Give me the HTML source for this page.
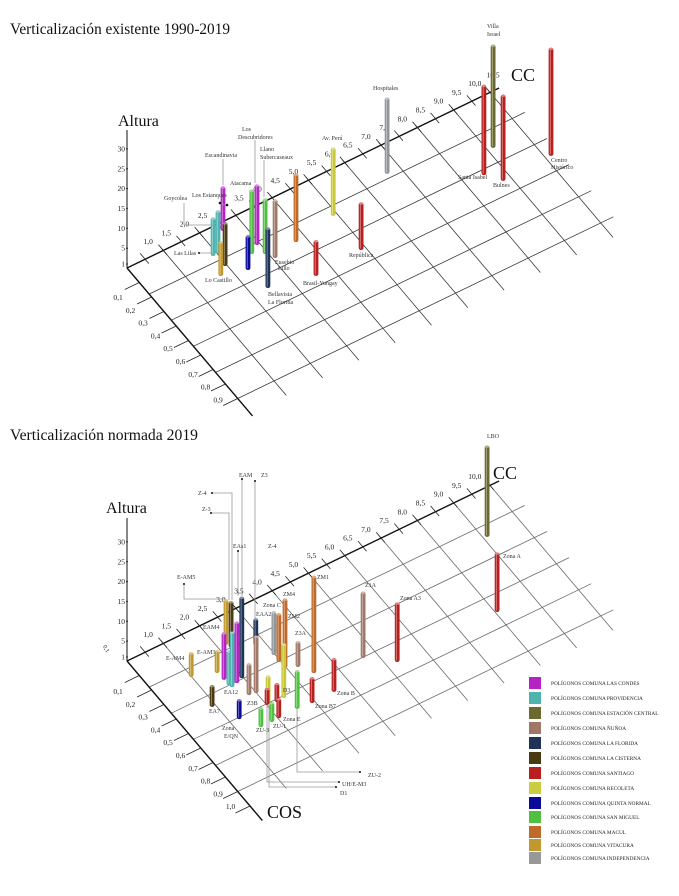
<!DOCTYPE html>
<html><head><meta charset="utf-8"><title>Verticalización</title>
<style>
html,body{margin:0;padding:0;background:#fff;}
svg{display:block;font-family:"Liberation Serif",serif;}
.lbl{font-size:6px;fill:#333;}
.tk{font-size:7.5px;fill:#222;}
.ld{stroke:#999;stroke-width:0.8;fill:none;}
</style></head>
<body>
<svg id="chart" width="679" height="896" viewBox="0 0 679 896" xmlns="http://www.w3.org/2000/svg">
<rect x="0" y="0" width="679" height="896" fill="#fff"/>
<defs><clipPath id="clipR"><rect x="0" y="0" width="614" height="896"/></clipPath></defs>

<text x="10" y="34" font-size="15.5" textLength="220" lengthAdjust="spacingAndGlyphs" fill="#111">Verticalización existente 1990-2019</text>
<text x="10" y="440" font-size="15.5" textLength="188" lengthAdjust="spacingAndGlyphs" fill="#111">Verticalización normada 2019</text>

<g id="top"></g>
<g id="bot"></g>

<!-- top chart annotations -->
<g>
<text x="118" y="126" font-size="16" fill="#111">Altura</text>
<text x="511" y="81" font-size="18" fill="#111">CC</text>
<path class="ld" d="M184 203 V225 H213 M199 253 H213 M223 159 V185 M255 140 V183 M264 160 V197 M220 203 L227 206"/>
<circle cx="199" cy="253" r="1" fill="#111"/><circle cx="220" cy="203" r="1.3" fill="#111"/><circle cx="227" cy="205" r="1.3" fill="#111"/>
<text class="lbl" x="164" y="200">Goycolea</text>
<text class="lbl" x="192" y="197">Los Estanques</text>
<text class="lbl" x="205" y="157">Escandinavia</text>
<text class="lbl" x="242" y="131">Los</text>
<text class="lbl" x="238" y="139">Descubridores</text>
<text class="lbl" x="260" y="151">Llano</text>
<text class="lbl" x="260" y="159">Subercaseaux</text>
<text class="lbl" x="230" y="185">Atacama</text>
<text class="lbl" x="174" y="255">Las Lilas</text>
<text class="lbl" x="205" y="282">Lo Castillo</text>
<text class="lbl" x="275" y="264">Eusebio</text>
<text class="lbl" x="278" y="270">Lillo</text>
<text class="lbl" x="268" y="296">Bellavista</text>
<text class="lbl" x="268" y="304">La Florida</text>
<text class="lbl" x="303" y="285">Brasil-Yungay</text>
<text class="lbl" x="349" y="257">República</text>
<text class="lbl" x="322" y="140">Av. Perú</text>
<text class="lbl" x="373" y="90">Hospitales</text>
<text class="lbl" x="487" y="28">Villa</text>
<text class="lbl" x="487" y="36">Israel</text>
<text class="lbl" x="458" y="179">Santa Isabel</text>
<text class="lbl" x="493" y="187">Bulnes</text>
<text class="lbl" x="551" y="162">Centro</text>
<text class="lbl" x="551" y="169">Histórico</text>
</g>

<!-- bottom chart annotations -->
<g>
<text x="106" y="513" font-size="16" fill="#111">Altura</text>
<text x="493" y="479" font-size="18" fill="#111">CC</text>
<text x="267" y="818" font-size="18" fill="#111">COS</text>
<text x="103" y="650" font-size="6" fill="#111" transform="rotate(60 106 648)">0,1</text>
<path class="ld" d="M184 584 V599 H226 M212 493 H232 V600 M211 513 H229 V600 M242 479 V596 M255 481 V618 M238 551 V596 M297 709 V772 H360 M267 705 V782 H339 M269 705 V787 H336"/>
<circle cx="184" cy="584" r="1" fill="#111"/><circle cx="212" cy="493" r="1" fill="#111"/><circle cx="211" cy="513" r="1" fill="#111"/><circle cx="242" cy="479" r="1" fill="#111"/><circle cx="255" cy="481" r="1" fill="#111"/><circle cx="238" cy="551" r="1" fill="#111"/><circle cx="360" cy="772" r="1" fill="#111"/><circle cx="339" cy="782" r="1" fill="#111"/><circle cx="336" cy="787" r="1" fill="#111"/>
<text class="lbl" x="487" y="438">LBO</text>
<text class="lbl" x="503" y="558">Zona A</text>
<text class="lbl" x="317" y="579">ZM1</text>
<text class="lbl" x="365" y="587">Z1A</text>
<text class="lbl" x="400" y="600">Zona A3</text>
<text class="lbl" x="283" y="596">ZM4</text>
<text class="lbl" x="263" y="607">Zona C</text>
<text class="lbl" x="256" y="616">EAA2</text>
<text class="lbl" x="288" y="618">ZM2</text>
<text class="lbl" x="295" y="635">Z3A</text>
<text class="lbl" x="203" y="629">EAM4</text>
<text class="lbl" x="197" y="654">E-AM3</text>
<text class="lbl" x="166" y="660">E-AM4</text>
<text class="lbl" x="177" y="579">E-AM5</text>
<text class="lbl" x="198" y="495">Z-4</text>
<text class="lbl" x="202" y="511">Z-3</text>
<text class="lbl" x="239" y="477">EAM</text>
<text class="lbl" x="261" y="477">Z3</text>
<text class="lbl" x="233" y="548">EAs1</text>
<text class="lbl" x="268" y="548">Z-4</text>
<text class="lbl" x="224" y="694">EA12</text>
<text class="lbl" x="209" y="713">EA7</text>
<text class="lbl" x="222" y="730">Zona</text>
<text class="lbl" x="224" y="738">E/QN</text>
<text class="lbl" x="247" y="705">Z3B</text>
<text class="lbl" x="283" y="692">D3</text>
<text class="lbl" x="256" y="732">ZU-3</text>
<text class="lbl" x="273" y="728">ZU-1</text>
<text class="lbl" x="283" y="721">Zona E</text>
<text class="lbl" x="337" y="695">Zona B</text>
<text class="lbl" x="315" y="708">Zona B7</text>
<text class="lbl" x="368" y="777">ZU-2</text>
<text class="lbl" x="342" y="786">UH/E-M3</text>
<text class="lbl" x="340" y="795">D1</text>
</g>

<!-- legend -->
<g font-size="5.3" fill="#222">
<g><rect x="529" y="677" width="12" height="12" fill="#b424c4"/><text x="551" y="685">POLÍGONOS COMUNA  LAS CONDES</text></g>
<g><rect x="529" y="692" width="12" height="12" fill="#4fb3ae"/><text x="551" y="700">POLÍGONOS COMUNA  PROVIDENCIA</text></g>
<g><rect x="529" y="707" width="12" height="12" fill="#6b6a2e"/><text x="551" y="715">POLÍGONOS COMUNA ESTACIÓN CENTRAL</text></g>
<g><rect x="529" y="722" width="12" height="12" fill="#a07868"/><text x="551" y="730">POLÍGONOS  COMUNA  ÑUÑOA</text></g>
<g><rect x="529" y="737" width="12" height="12" fill="#1e3358"/><text x="551" y="745">POLÍGONOS COMUNA  LA FLORIDA</text></g>
<g><rect x="529" y="752" width="12" height="12" fill="#4a3a12"/><text x="551" y="760">POLÍGONOS COMUNA  LA CISTERNA</text></g>
<g><rect x="529" y="767" width="12" height="12" fill="#b82020"/><text x="551" y="775">POLÍGONOS COMUNA SANTIAGO</text></g>
<g><rect x="529" y="782" width="12" height="12" fill="#cccc40"/><text x="551" y="790">POLÍGONOS COMUNA  RECOLETA</text></g>
<g><rect x="529" y="797" width="12" height="12" fill="#0a0a9a"/><text x="551" y="805">POLÍGONOS COMUNA  QUINTA NORMAL</text></g>
<g><rect x="529" y="811" width="12" height="12" fill="#50c040"/><text x="551" y="819">POLÍGONOS COMUNA  SAN MIGUEL</text></g>
<g><rect x="529" y="826" width="12" height="12" fill="#c06a2a"/><text x="551" y="834">POLÍGONOS COMUNA  MACUL</text></g>
<g><rect x="529" y="839" width="12" height="12" fill="#c0982e"/><text x="551" y="847">POLÍGONOS COMUNA  VITACURA</text></g>
<g><rect x="529" y="852" width="12" height="12" fill="#989898"/><text x="551" y="860">POLÍGONOS COMUNA  INDEPENDENCIA</text></g>
</g>
</svg>

<script>
// ---- data ----
const heightTicks = [1, 5, 10, 15, 20, 25, 30];
const topCCTickLabels = ["1,0","1,5","2,0","2,5","3,5","4,0","4,5","5,0","5,5","6,0","6,5","7,0","7,5","8,0","8,5","9,0","9,5","10,0","10,5"];
const topCCTickValues = [1.0,1.5,2.0,2.5,3.5,4.0,4.5,5.0,5.5,6.0,6.5,7.0,7.5,8.0,8.5,9.0,9.5,10.0,10.5];
const botCCTickLabels = ["1,0","1,5","2,0","2,5","3,0","3,5","4,0","4,5","5,0","5,5","6,0","6,5","7,0","7,5","8,0","8,5","9,0","9,5","10,0"];
const botCCTickValues = [1.0,1.5,2.0,2.5,3.0,3.5,4.0,4.5,5.0,5.5,6.0,6.5,7.0,7.5,8.0,8.5,9.0,9.5,10.0];
const topCOSTickLabels = ["0,1","0,2","0,3","0,4","0,5","0,6","0,7","0,8","0,9"];
const botCOSTickLabels = ["0,1","0,2","0,3","0,4","0,5","0,6","0,7","0,8","0,9","1,0"];

// existing 1990-2019
const topNames = ["Las Lilas","Goycolea","Escandinavia","La Cisterna","Lo Castillo","Quinta Normal","Atacama","Los Descubridores","Llano Subercaseaux","Bellavista La Florida","Eusebio Lillo","Macul","Brasil-Yungay","Av. Perú","República","Hospitales","Santa Isabel","Villa Israel","Bulnes","Centro Histórico"];
const topCC  = [2.38,2.51,2.99,2.45,2.20,2.83,3.17,3.42,3.43,2.92,3.56,4.23,4.06,5.39,5.37,7.14,9.01,9.64,9.29,10.64];
const topCOS = [0.145,0.147,0.046,0.222,0.261,0.296,0.227,0.195,0.258,0.431,0.301,0.273,0.486,0.233,0.466,0.155,0.390,0.279,0.464,0.455];
const topH   = [9.75,11,11.25,11,8.75,8.75,16.25,15.25,14,15.25,14.75,17.25,9,17.25,12,19.25,22.75,26,21.75,27.25];
const topComuna = ["providencia","providencia","lascondes","cisterna","vitacura","quinta","sanmiguel","lascondes","sanmiguel","florida","nunoa","macul","santiago","recoleta","santiago","independencia","santiago","estacion","santiago","santiago"];

// normada 2019
const botCC  = [1.49,2.06,2.70,2.75,2.08,2.28,2.09,2.12,2.46,3.28,2.49,2.32,3.47,3.45,3.47,2.95,3.74,3.95,5.16,5.76,9.59,8.54,4.03,3.42,3.03,2.56,2.51,2.75,2.52,1.40,1.73,2.02,2.32];
const botCOS = [0.230,0.272,0.156,0.182,0.322,0.368,0.359,0.376,0.355,0.227,0.462,0.455,0.318,0.364,0.408,0.552,0.434,0.501,0.544,0.644,0.245,0.636,0.641,0.643,0.637,0.539,0.546,0.555,0.638,0.426,0.549,0.640,0.641];
const botH   = [6.25,5.75,11.5,11.75,12,15.5,8.75,14,20.5,6.75,14.5,8,11,12.25,17.5,13.75,6.5,24.5,16.75,15,23,15,8.5,6.5,9.75,7,4.25,4.75,5,5.5,5,5,5];
const botComuna = ["vitacura","vitacura","vitacura","cisterna","lascondes","lascondes","providencia","providencia","florida","florida","nunoa","nunoa","independencia","macul","macul","recoleta","nunoa","macul","nunoa","santiago","estacion","santiago","santiago","santiago","sanmiguel","recoleta","santiago","santiago","santiago","cisterna","quinta","sanmiguel","sanmiguel"];

const palette = {lascondes:"#b424c4",providencia:"#4fb3ae",estacion:"#6b6a2e",nunoa:"#a07868",florida:"#1e3358",cisterna:"#4a3a12",santiago:"#b82020",recoleta:"#c8c83a",quinta:"#0a0a9a",sanmiguel:"#50c040",macul:"#c06a2a",vitacura:"#c0982e",independencia:"#8f969c"};

// ---- axes / projection ----
const NS = "http://www.w3.org/2000/svg";
const U = [36.3, -17.56], V = [123, 145], HS = 3.97;
function proj(O, cc, cos, h){ return [O[0] + (cc-0.5)*U[0] + cos*V[0], O[1] + (cc-0.5)*U[1] + cos*V[1] - (h||0)*HS]; }
function mk(parent, tag, attrs){ const e = document.createElementNS(NS, tag); for (const k in attrs) e.setAttribute(k, attrs[k]); parent.appendChild(e); return e; }
function line(g, a, b, stroke, w){ return mk(g, "line", {x1:a[0].toFixed(1), y1:a[1].toFixed(1), x2:b[0].toFixed(1), y2:b[1].toFixed(1), stroke:stroke, "stroke-width":w}); }
function shade(hex, f){ const n=parseInt(hex.slice(1),16); let r=n>>16,g=(n>>8)&255,b=n&255; const m=v=>Math.max(0,Math.min(255,Math.round(f>0? v+(255-v)*f : v*(1+f)))); return "rgb("+m(r)+","+m(g)+","+m(b)+")"; }

function drawChart(g, O, cfg){
  const grid = mk(g, "g", {"clip-path":"url(#clipR)"});
  
  
  // CC-parallel lines
  for (let k = 1; k <= 5; k++){
    const c = 0.18*k;
    const l = line(grid, proj(O,0.5,c), proj(O,10.85,c), cfg.grid, 0.8);
    
    
  }
  // COS-parallel lines
  for (let cc = 1.5; cc <= 10.51; cc += 1){
    const l = line(grid, proj(O,cc,-0.02), proj(O,cc,1.0), cfg.grid, 0.8);
    
    
  }
  // altura axis
  const ax = line(g, [O[0],O[1]], [O[0],O[1]-cfg.axisTop], "#111", 1);
  
  
  heightTicks.forEach(h => {
    const y = O[1] - h*HS;
    const d = mk(g, "circle", {cx:O[0], cy:y.toFixed(1), r:0.9, fill:"#111"});
    
    
    const t = mk(g, "text", {x:O[0]-2, y:(y+2.5).toFixed(1), "font-size":7.5, "text-anchor":"end", fill:"#222"});
    t.textContent = String(h);
    
    
  });
  // CC axis
  const cca = line(g, proj(O,0.5,0), proj(O,10.75,0), "#111", 1.4);
  
  
  for (let cc = 1.0; cc <= 10.51; cc += 0.5){
    const tkl = line(g, proj(O,cc,-0.04), proj(O,cc,0.03), "#222", 0.8);
    
    
  }
  cfg.ccVals.forEach((v,i) => {
    const p = proj(O, v, 0);
    const t = mk(g, "text", {x:(p[0]+3).toFixed(1), y:(p[1]-15).toFixed(1), "font-size":7.5, "text-anchor":"middle", fill:"#222"});
    t.textContent = cfg.ccLabels[i];
    
    
  });
  // COS axis
  const cosa = line(g, proj(O,0.5,0), proj(O,0.5,cfg.cosEnd), "#111", 1.4);
  
  
  cfg.cosLabels.forEach((lab,i) => {
    const c = 0.1*(i+1);
    const tkl = line(g, proj(O,0.5,c), proj(O,0.1,c), "#222", 0.8);
    
    
    const t = mk(g, "text", {x:(cfg.cosLab[0] + 12.5*i).toFixed(1), y:(cfg.cosLab[1] + 12.8*i).toFixed(1), "font-size":7.5, "text-anchor":"middle", fill:"#222"});
    t.textContent = lab;
    
    
  });
  // bars, back to front
  const idx = cfg.cc.map((_,i)=>i).sort((a,b)=>cfg.cos[a]-cfg.cos[b]);
  const bars = mk(g, "g", {});
  
  
  idx.forEach(i => {
    const base = proj(O, cfg.cc[i], cfg.cos[i], 0);
    const top = proj(O, cfg.cc[i], cfg.cos[i], cfg.h[i]);
    const col = palette[cfg.comuna[i]];
    const b = mk(bars, "g", {});
    
    
    mk(b, "rect", {x:(base[0]-2.4).toFixed(1), y:top[1].toFixed(1), width:4.8, height:(base[1]-top[1]).toFixed(1), rx:2.2, fill:col});
    mk(b, "rect", {x:(base[0]-1.2).toFixed(1), y:(top[1]+1.5).toFixed(1), width:1.1, height:Math.max(0,base[1]-top[1]-3).toFixed(1), fill:shade(col,0.35)});
    mk(b, "ellipse", {cx:base[0].toFixed(1), cy:(top[1]+1.2).toFixed(1), rx:2.2, ry:1.1, fill:shade(col,0.45)});
  });
}

drawChart(document.getElementById("top"), [127,268], {
  grid:"#3a3a3a", axisTop:138, cosEnd:1.02, ccVals:topCCTickValues, ccLabels:topCCTickLabels,
  cosLabels:topCOSTickLabels, cosLab:[118,300],
  cc:topCC, cos:topCOS, h:topH, comuna:topComuna
});
drawChart(document.getElementById("bot"), [127,661], {
  grid:"#6a6a6a", axisTop:143, cosEnd:1.1, ccVals:botCCTickValues, ccLabels:botCCTickLabels,
  cosLabels:botCOSTickLabels, cosLab:[118,694],
  cc:botCC, cos:botCOS, h:botH, comuna:botComuna
});
</script>
</body></html>
